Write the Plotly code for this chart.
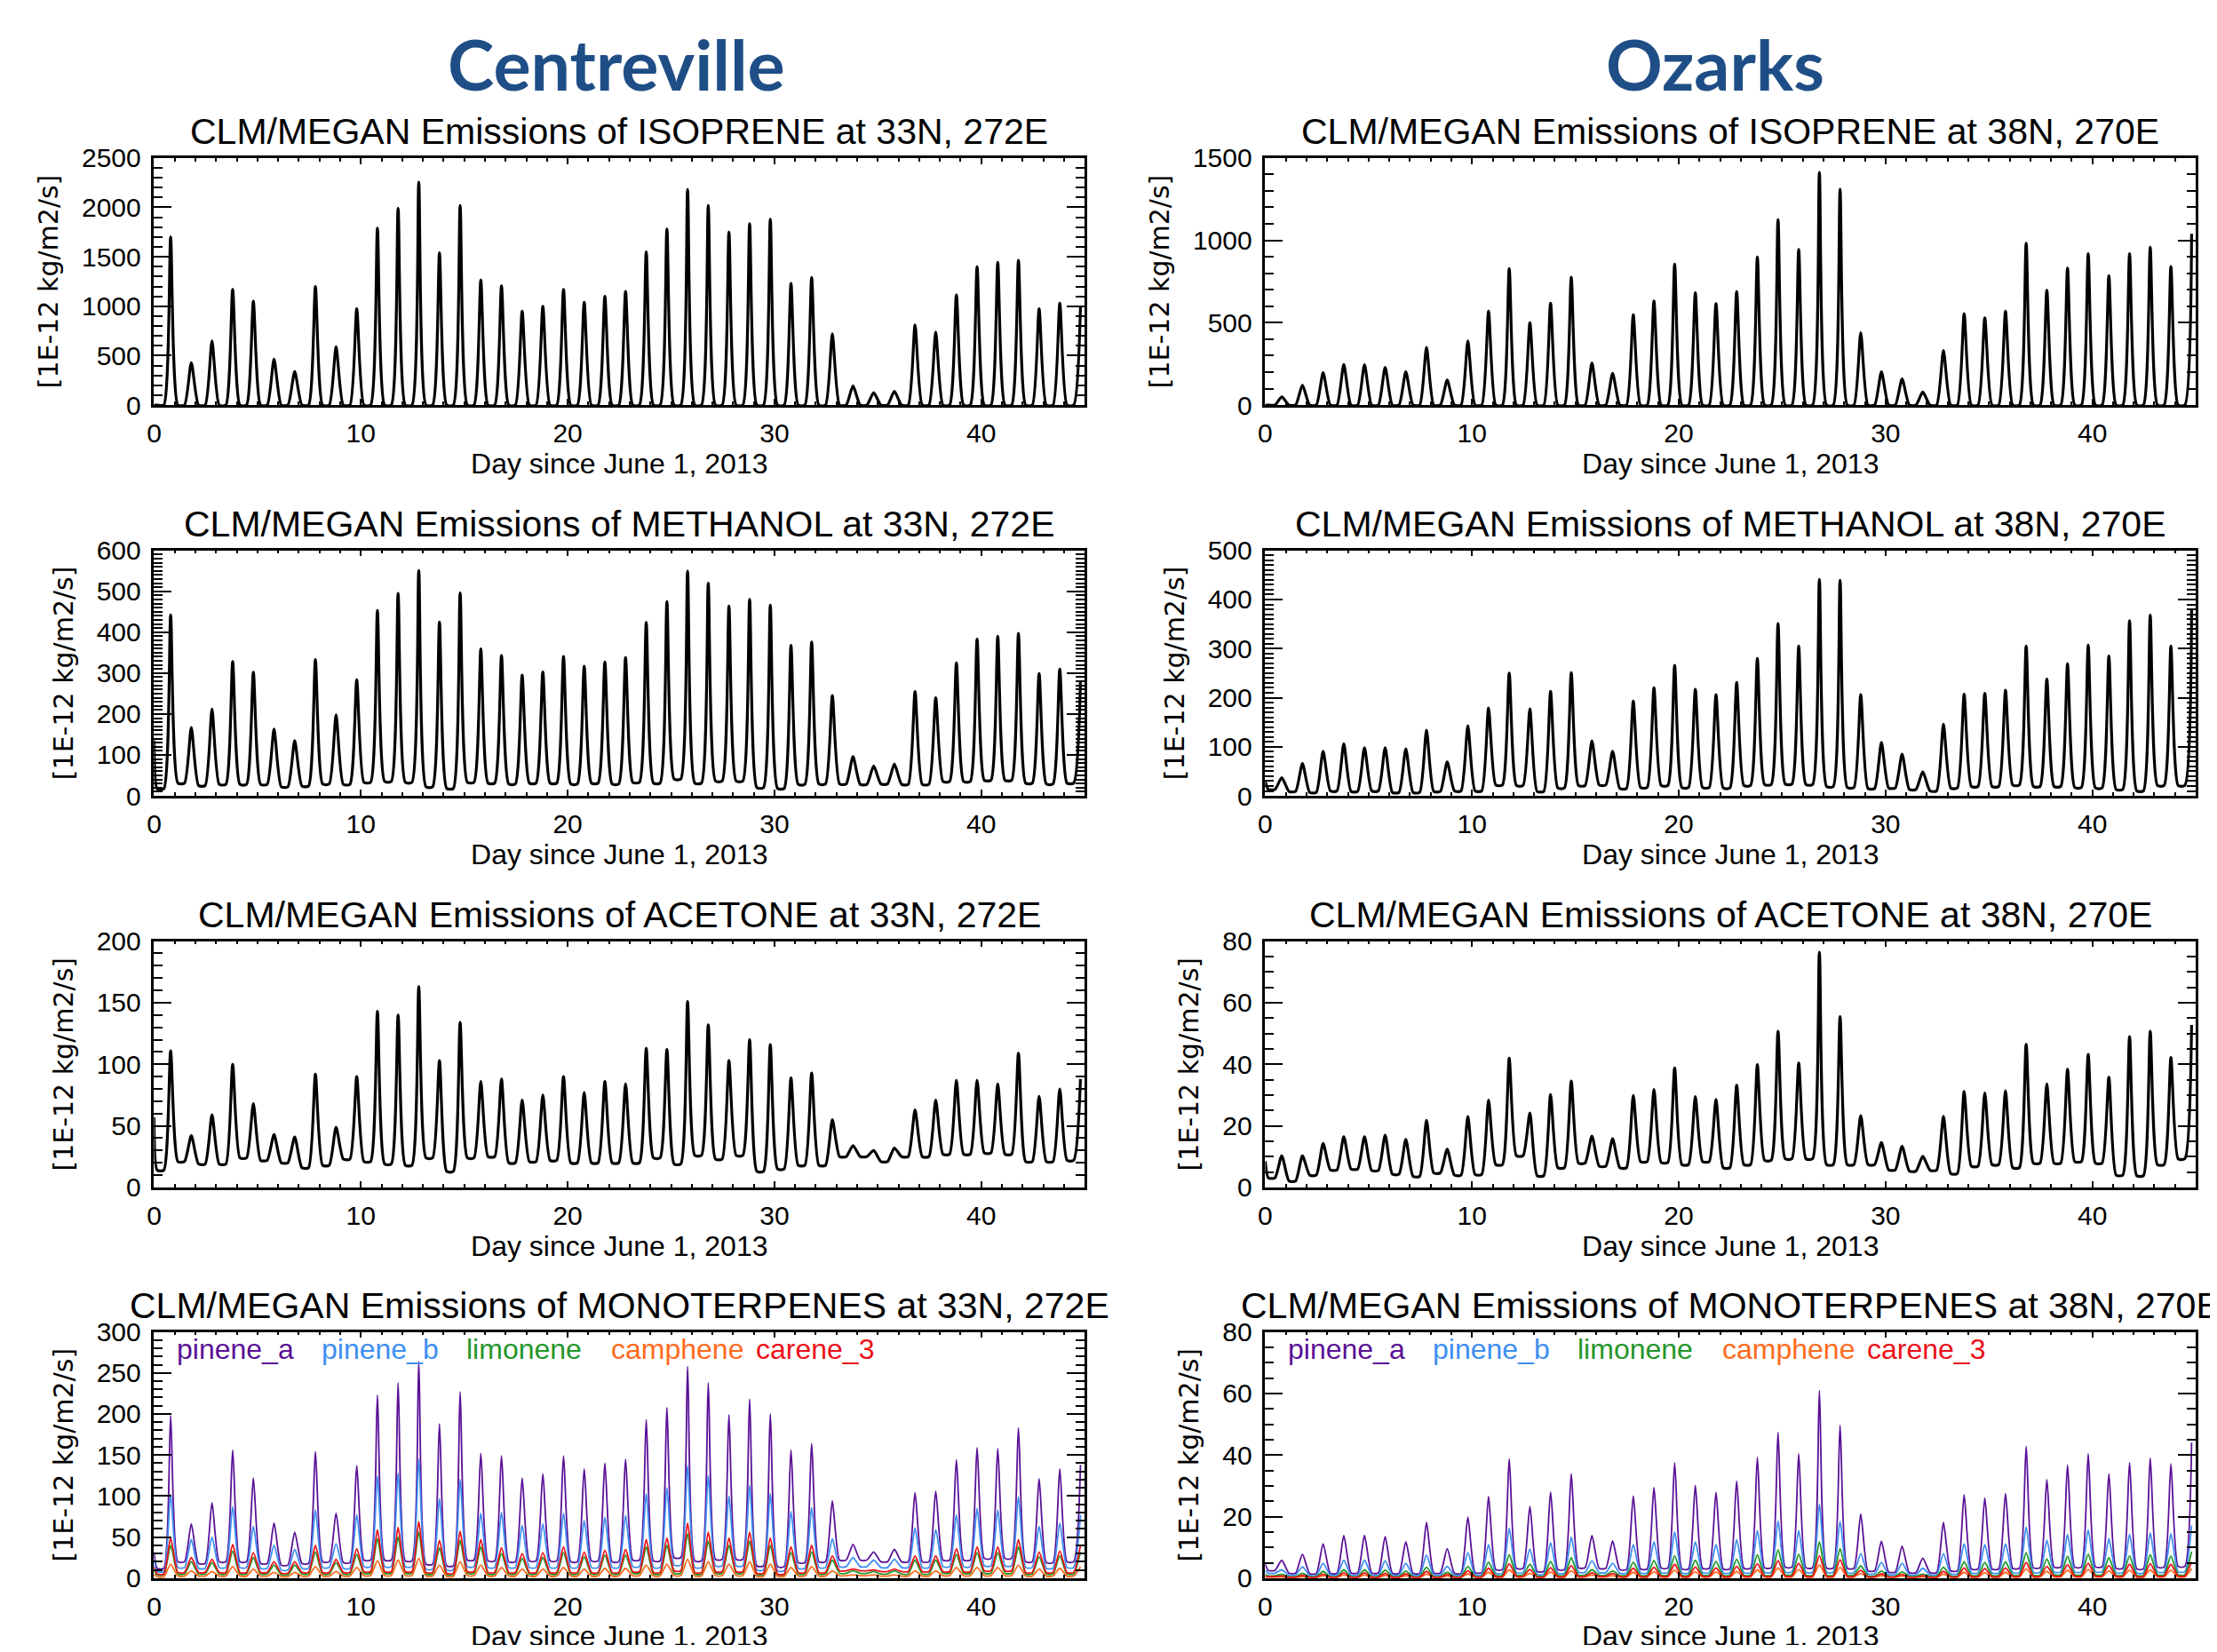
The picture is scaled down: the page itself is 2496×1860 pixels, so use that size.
import plotly.graph_objects as go

# ---------------- data (daily peak / night-minimum values) ----------------
DAY_LABEL = "Day since June 1, 2013"
YTITLE = "[1E-12 kg/m2/s]"
X_TICKS = [0, 10, 20, 30, 40]

# Centreville (33N, 272E)
CV_ISOP_PEAK = [1700, 430, 650, 1170, 1050, 465, 340, 1200, 590, 975,
                1790, 1990, 2255, 1540, 2020, 1265, 1205, 950, 1000, 1170,
                1040, 1100, 1150, 1550, 1780, 2180, 2020, 1750, 1835, 1880,
                1230, 1290, 720, 195, 125, 140, 810, 740, 1115, 1400,
                1445, 1465, 975, 1030, 1000]
CV_ISOP_NIGHT = [0] * 45
CV_METH_PEAK = [442, 167, 212, 328, 302, 163, 135, 333, 198, 284,
                453, 495, 551, 425, 496, 359, 343, 295, 303, 341,
                317, 327, 338, 424, 475, 549, 520, 464, 480, 466,
                368, 376, 245, 96, 73, 78, 255, 240, 325, 383,
                390, 397, 299, 310, 281]
CV_METH_NIGHT = [17, 31, 25, 28, 28, 28, 22, 24, 29, 28,
                 33, 35, 33, 22, 18, 33, 31, 29, 31, 31,
                 29, 31, 29, 33, 31, 41, 31, 36, 36, 20,
                 18, 28, 29, 29, 28, 29, 28, 28, 35, 35,
                 38, 38, 31, 29, 31]
CV_ACET_PEAK = [111, 42, 59, 100, 68, 43, 41, 92, 49, 90,
                143, 140, 163, 103, 134, 86, 88, 71, 75, 90,
                77, 86, 84, 113, 112, 151, 132, 103, 120, 116,
                89, 93, 55, 34, 30, 32, 63, 71, 87, 87,
                84, 109, 74, 80, 88]
CV_ACET_NIGHT = [14, 21, 19, 19, 24, 22, 20, 16, 18, 23,
                 21, 19, 18, 24, 13, 24, 25, 20, 21, 22,
                 20, 20, 20, 20, 24, 19, 26, 23, 26, 13,
                 15, 18, 18, 25, 25, 21, 25, 25, 27, 27,
                 28, 27, 21, 21, 22]
CV_PINA_PEAK = [198, 66, 92, 156, 122, 67, 56, 154, 79, 137,
                223, 238, 264, 188, 227, 152, 149, 122, 127, 149,
                133, 140, 145, 193, 208, 258, 238, 199, 218, 200,
                156, 164, 94, 41, 32, 35, 104, 106, 144, 159,
                158, 183, 121, 133, 138]
CV_PINA_NIGHT = [12, 20, 18, 20, 20, 18, 16, 18, 20, 19,
                 22, 22, 21, 17, 15, 22, 21, 20, 21, 21,
                 20, 21, 20, 22, 21, 25, 21, 23, 23, 15,
                 14, 19, 20, 22, 22, 20, 20, 20, 22, 22,
                 24, 24, 20, 19, 20]
CV_PINB_PEAK = [102, 47, 50, 87, 63, 40, 35, 83, 42, 77,
                124, 128, 145, 97, 120, 79, 80, 64, 66, 79,
                70, 74, 76, 103, 110, 137, 125, 100, 113, 103,
                81, 86, 48, 25, 22, 23, 61, 59, 77, 85,
                83, 99, 63, 67, 77]
CV_PINB_NIGHT = [8, 13, 12, 13, 13, 12, 10, 12, 13, 12,
                 14, 14, 14, 11, 10, 14, 13, 13, 13, 13,
                 13, 13, 13, 14, 13, 16, 13, 15, 15, 10,
                 9, 12, 13, 14, 14, 13, 13, 13, 14, 14,
                 15, 15, 13, 12, 13]
CV_LIMO_PEAK = [40, 20, 19, 33, 25, 16, 16, 32, 19, 29,
                48, 50, 56, 37, 46, 38, 30, 24, 25, 31,
                26, 28, 28, 38, 40, 54, 45, 40, 45, 40,
                31, 32, 22, 9, 8, 9, 22, 22, 29, 31,
                31, 38, 26, 27, 32]
CV_LIMO_NIGHT = [4, 5, 5, 5, 5, 5, 4, 5, 5, 5,
                 6, 6, 6, 5, 4, 6, 5, 5, 5, 5,
                 5, 5, 5, 6, 5, 6, 5, 6, 6, 4,
                 4, 5, 5, 6, 6, 5, 5, 5, 6, 6,
                 6, 6, 5, 5, 5]
CV_CAMPH_PEAK = [17, 9, 8, 14, 11, 7, 7, 14, 8, 13,
                 21, 22, 24, 16, 20, 16, 13, 11, 11, 13,
                 11, 12, 12, 16, 17, 23, 20, 17, 20, 17,
                 13, 14, 9, 4, 4, 4, 9, 9, 13, 13,
                 13, 16, 11, 12, 14]
CV_CAMPH_NIGHT = [1.5, 2.5, 2.5, 2.5, 2.5, 2.5, 2, 2.5, 2.5, 2.5,
                  3, 3, 3, 2.5, 2, 3, 2.5, 2.5, 2.5, 2.5,
                  2.5, 2.5, 2.5, 3, 2.5, 3, 2.5, 3, 3, 2,
                  2, 2.5, 2.5, 3, 3, 2.5, 2.5, 2.5, 3, 3,
                  3, 3, 2.5, 2.5, 2.5]
CV_CAREN_PEAK = [49, 25, 23, 41, 31, 20, 20, 40, 23, 36,
                 59, 62, 69, 46, 57, 47, 37, 30, 31, 38,
                 32, 34, 35, 47, 49, 67, 56, 49, 56, 49,
                 38, 40, 27, 11, 10, 11, 27, 27, 36, 38,
                 38, 47, 32, 33, 40]
CV_CAREN_NIGHT = [5, 7, 7, 7, 7, 7, 6, 7, 7, 7,
                  8, 8, 8, 7, 6, 8, 7, 7, 7, 7,
                  7, 7, 7, 8, 7, 9, 7, 8, 8, 6,
                  5, 7, 7, 9, 9, 8, 8, 8, 8, 8,
                  9, 9, 7, 7, 7]

# Ozarks (38N, 270E)
OZ_ISOP_PEAK = [50, 121, 197, 247, 245, 229, 202, 350, 152, 390,
                570, 829, 500, 619, 776, 256, 193, 549, 632, 856,
                682, 616, 688, 899, 1125, 944, 1412, 1310, 440, 202,
                159, 79, 332, 554, 529, 570, 982, 697, 832, 919,
                785, 919, 958, 841, 1040]
OZ_ISOP_NIGHT = [0] * 45
OZ_METH_PEAK = [37, 66, 91, 106, 98, 98, 96, 134, 69, 143,
                179, 250, 177, 213, 251, 112, 91, 193, 220, 266,
                217, 206, 231, 280, 351, 305, 441, 439, 206, 109,
                85, 49, 146, 207, 209, 215, 305, 238, 269, 307,
                285, 357, 368, 305, 381]
OZ_METH_NIGHT = [13, 9, 7, 10, 9, 10, 7, 7, 9, 10,
                 10, 22, 21, 9, 16, 21, 22, 15, 17, 21,
                 17, 17, 16, 21, 23, 24, 23, 19, 17, 15,
                 16, 13, 10, 16, 19, 19, 22, 19, 19, 17,
                 16, 13, 10, 21, 21]
OZ_ACET_PEAK = [10.3, 10.3, 14.3, 16.5, 16.5, 17, 15.6, 21.8, 12.4, 23,
                28.4, 42, 24.2, 30.2, 34.6, 16.7, 15.8, 29.9, 31.8, 38.8,
                29.5, 28.6, 33.2, 39.9, 50.7, 40.4, 76.4, 55.5, 23.3, 14.6,
                13.4, 10.1, 23.1, 31.2, 30.7, 31.4, 46.5, 33.6, 38.4, 43.2,
                35.8, 49, 50.7, 42.2, 52.8]
OZ_ACET_NIGHT = [3.1, 2.1, 4, 5.7, 6, 5.5, 4.3, 3.6, 4.7, 4,
                 4.2, 7.4, 10.3, 3.8, 6.4, 7.9, 6.9, 6.4, 8.4, 8.1,
                 7.4, 8.4, 6.4, 7.4, 8.8, 9.3, 9.3, 7.4, 7.4, 7.4,
                 5.7, 5.3, 5.6, 4.5, 6.9, 7.4, 6.4, 7.9, 7.9, 8.4,
                 7.9, 4, 3.8, 7.4, 9.3]
OZ_PINA_PEAK = [5.8, 7.8, 11.2, 13.8, 13.9, 13.5, 11.8, 18.1, 9.6, 19.8,
                26.5, 38.8, 23.3, 28, 33.9, 13.8, 12.1, 26.7, 29.4, 37.5,
                30.1, 27.9, 31.5, 39.2, 47.3, 40.4, 60.9, 49.6, 20.8, 12,
                10.4, 6.5, 18.1, 27.1, 26, 27.5, 42.8, 32, 36.8, 40.4,
                33.9, 37.5, 39, 37.1, 44]
OZ_PINA_NIGHT = [2.5, 1.6, 1.5, 1.6, 1.7, 1.7, 1.6, 1.6, 1.7, 1.6,
                 1.8, 2.8, 3.2, 2.2, 2.8, 3.4, 3.2, 2.8, 3.0, 3.3,
                 3.0, 3.2, 3.0, 3.2, 3.4, 3.6, 3.4, 3.3, 3.2, 2.4,
                 2.0, 1.8, 1.8, 2.4, 3.0, 3.0, 3.2, 3.4, 3.6, 3.6,
                 3.7, 3.2, 3.0, 3.6, 3.8]
OZ_PINB_PEAK = [2.7, 3.7, 4.8, 5.8, 5.8, 5.6, 4.8, 7.5, 3.8, 8.3,
                10.9, 16.2, 9.4, 11.5, 13.3, 5.6, 4.8, 10.9, 11.8, 15,
                11.8, 10.9, 12.5, 15.4, 18.5, 15.4, 24, 18.4, 8, 5.1,
                4.8, 3.2, 8, 11.2, 10.9, 11.2, 16.6, 12.3, 14.2, 15.7,
                12.8, 14.2, 14.7, 14.4, 17.1]
OZ_PINB_NIGHT = [1.6, 1.0, 0.9, 1.0, 1.0, 1.0, 1.0, 1.0, 1.0, 1.0,
                 1.1, 1.6, 1.8, 1.3, 1.6, 1.9, 1.8, 1.6, 1.7, 1.8,
                 1.7, 1.8, 1.7, 1.8, 1.9, 2.0, 1.9, 1.9, 1.8, 1.4,
                 1.2, 1.1, 1.1, 1.4, 1.7, 1.7, 1.8, 1.9, 2.0, 2.0,
                 2.1, 1.8, 1.7, 2.0, 2.1]
OZ_LIMO_PEAK = [1.2, 1.6, 2.2, 2.7, 2.7, 2.6, 2.3, 3.5, 1.9, 3.8,
                5.2, 7.6, 4.5, 5.4, 6.6, 2.7, 2.3, 5.2, 5.7, 7.3,
                5.8, 5.4, 6.1, 7.6, 9.2, 7.8, 11.8, 9.6, 4, 2.3,
                2, 1.3, 3.5, 5.3, 5.1, 5.3, 8.3, 6.2, 7.1, 7.8,
                6.6, 7.3, 7.6, 7.2, 8.6]
OZ_LIMO_NIGHT = [0.8, 0.5, 0.5, 0.5, 0.5, 0.5, 0.5, 0.5, 0.5, 0.5,
                 0.6, 0.9, 1.0, 0.7, 0.9, 1.0, 1.0, 0.9, 0.9, 1.0,
                 0.9, 1.0, 0.9, 1.0, 1.0, 1.1, 1.0, 1.0, 1.0, 0.7,
                 0.6, 0.6, 0.6, 0.7, 0.9, 0.9, 1.0, 1.0, 1.1, 1.1,
                 1.1, 1.0, 0.9, 1.1, 1.1]
OZ_CAMPH_PEAK = [0.4, 0.5, 0.8, 1, 1, 0.9, 0.8, 1.3, 0.7, 1.4,
                 1.9, 2.7, 1.6, 2, 2.4, 1, 0.8, 1.9, 2.1, 2.6,
                 2.1, 2, 2.2, 2.7, 3.3, 2.8, 4.3, 3.5, 1.5, 0.8,
                 0.7, 0.5, 1.3, 1.9, 1.8, 1.9, 3, 2.2, 2.6, 2.8,
                 2.4, 2.6, 2.7, 2.6, 3.1]
OZ_CAMPH_NIGHT = [0.3, 0.2, 0.2, 0.2, 0.2, 0.2, 0.2, 0.2, 0.2, 0.2,
                  0.25, 0.3, 0.35, 0.25, 0.3, 0.35, 0.35, 0.3, 0.3, 0.35,
                  0.3, 0.35, 0.3, 0.35, 0.35, 0.4, 0.35, 0.35, 0.35, 0.25,
                  0.25, 0.2, 0.2, 0.25, 0.3, 0.3, 0.35, 0.35, 0.4, 0.4,
                  0.4, 0.35, 0.3, 0.4, 0.4]
OZ_CAREN_PEAK = [0.7, 0.9, 1.3, 1.7, 1.7, 1.6, 1.4, 2.2, 1.2, 2.4,
                 3.2, 4.7, 2.8, 3.4, 4.1, 1.7, 1.5, 3.2, 3.5, 4.5,
                 3.6, 3.3, 3.8, 4.7, 5.7, 4.8, 7.3, 6, 2.5, 1.4,
                 1.2, 0.8, 2.2, 3.3, 3.1, 3.3, 5.1, 3.8, 4.4, 4.8,
                 4.1, 4.5, 4.7, 4.5, 5.3]
OZ_CAREN_NIGHT = [0.5, 0.3, 0.3, 0.3, 0.3, 0.3, 0.3, 0.3, 0.3, 0.3,
                  0.4, 0.5, 0.6, 0.4, 0.5, 0.6, 0.6, 0.5, 0.5, 0.6,
                  0.5, 0.6, 0.5, 0.6, 0.6, 0.7, 0.6, 0.6, 0.6, 0.4,
                  0.4, 0.3, 0.3, 0.4, 0.5, 0.5, 0.6, 0.6, 0.7, 0.7,
                  0.7, 0.6, 0.5, 0.7, 0.7]

# value at t = 0 for each series
START = {"CV_ISOP": 0, "CV_METH": 136, "CV_ACET": 57, "CV_PINA": 30, "CV_PINB": 22,
         "CV_LIMO": 10, "CV_CAMPH": 5, "CV_CAREN": 14,
         "OZ_ISOP": 0, "OZ_METH": 29, "OZ_ACET": 8.5, "OZ_PINA": 4.5, "OZ_PINB": 2.5,
         "OZ_LIMO": 1.2, "OZ_CAMPH": 0.4, "OZ_CAREN": 0.6}

SPECIES = ["pinene_a", "pinene_b", "limonene", "camphene", "carene_3"]
SPECIES_COLORS = ["#5a1196", "#3d8ef2", "#23962a", "#ff6a1c", "#ec1018"]
SPECIES_LABEL_X = [1, 8, 15, 22, 29]

# time of day (fraction) of dusk-end / dawn / midday peak samples
PHASE = [0.15, 0.47, 0.80]

# ---------------- layout helpers ----------------
W, H = 2480, 1844
OFFX, OFFY = 12, 8
VS, VO = 0.978, 18.0   # vertical calibration of the captured page


def fx(px):
    return (px - OFFX) / W


def fy(py):
    page = (py - VO) / VS
    return 1 - (page - OFFY) / H


COLX = [(170, 1221), (1425, 2476)]
ROWY = [(179, 458), (622, 899), (1063, 1341), (1504, 1782)]

SITES = [("Centreville", "33N, 272E", 692), ("Ozarks", "38N, 270E", 1933)]
COMPOUNDS = ["ISOPRENE", "METHANOL", "ACETONE", "MONOTERPENES"]
YAX = [  # (max, major, minor) for [Centreville, Ozarks]
    [(2500, 500, 100), (1500, 500, 100)],
    [(600, 100, 10), (500, 100, 10)],
    [(200, 50, 10), (80, 20, 5)],
    [(300, 50, 10), (80, 20, 5)],
]

SINGLE = {
    (0, 0): ("CV_ISOP", CV_ISOP_PEAK, CV_ISOP_NIGHT),
    (1, 0): ("CV_METH", CV_METH_PEAK, CV_METH_NIGHT),
    (2, 0): ("CV_ACET", CV_ACET_PEAK, CV_ACET_NIGHT),
    (0, 1): ("OZ_ISOP", OZ_ISOP_PEAK, OZ_ISOP_NIGHT),
    (1, 1): ("OZ_METH", OZ_METH_PEAK, OZ_METH_NIGHT),
    (2, 1): ("OZ_ACET", OZ_ACET_PEAK, OZ_ACET_NIGHT),
}
MULTI = {
    0: [("CV_PINA", CV_PINA_PEAK, CV_PINA_NIGHT), ("CV_PINB", CV_PINB_PEAK, CV_PINB_NIGHT),
        ("CV_LIMO", CV_LIMO_PEAK, CV_LIMO_NIGHT), ("CV_CAMPH", CV_CAMPH_PEAK, CV_CAMPH_NIGHT),
        ("CV_CAREN", CV_CAREN_PEAK, CV_CAREN_NIGHT)],
    1: [("OZ_PINA", OZ_PINA_PEAK, OZ_PINA_NIGHT), ("OZ_PINB", OZ_PINB_PEAK, OZ_PINB_NIGHT),
        ("OZ_LIMO", OZ_LIMO_PEAK, OZ_LIMO_NIGHT), ("OZ_CAMPH", OZ_CAMPH_PEAK, OZ_CAMPH_NIGHT),
        ("OZ_CAREN", OZ_CAREN_PEAK, OZ_CAREN_NIGHT)],
}


def series(key, peaks, nights):
    xs, ys = [0.0], [START[key]]
    for d, (p, n) in enumerate(zip(peaks, nights)):
        xs += [d + PHASE[0], d + PHASE[1], d + PHASE[2]]
        ys += [n, n, p]
    return xs, ys


FONT = "Liberation Sans, Arial, Helvetica, sans-serif"
fig = go.Figure()
layout = dict(width=W, height=H, autosize=False, margin=dict(l=0, r=0, t=0, b=0, pad=0),
              paper_bgcolor="white", plot_bgcolor="white", showlegend=False,
              annotations=[])

for r in range(4):
    for c in range(2):
        k = r * 2 + c + 1
        xs_ = "" if k == 1 else str(k)
        x0, x1 = COLX[c]
        y0, y1 = ROWY[r]
        ymax, ymaj, ymin = YAX[r][c]
        xtitle = DAY_LABEL if r < 3 else ""
        layout["xaxis" + xs_] = dict(
            domain=[fx(x0), fx(x1)], range=[0, 45], anchor="y" + xs_,
            tickvals=X_TICKS, ticks="inside", ticklen=7, tickwidth=2, tickcolor="black",
            minor=dict(dtick=1, tick0=0, ticks="inside", ticklen=4, tickwidth=1.5, tickcolor="black", showgrid=False),
            showline=True, linecolor="black", linewidth=2.5, mirror="allticks",
            showgrid=False, zeroline=False, ticklabelstandoff=3,
            tickfont=dict(family=FONT, size=30, color="black"),
            title=dict(text=xtitle, font=dict(family=FONT, size=32, color="black"), standoff=5))
        if r == 3:
            # bottom row: x title sits at the very bottom edge (partly cut, as in the source)
            layout["annotations"].append(dict(
                text=DAY_LABEL, xref="paper", yref="paper", x=fx((x0 + x1) / 2), y=fy(1847),
                xanchor="center", yanchor="middle", showarrow=False,
                font=dict(family=FONT, size=32, color="black")))
        layout["yaxis" + xs_] = dict(
            domain=[fy(y1), fy(y0)], range=[0, ymax], anchor="x" + xs_,
            tick0=0, dtick=ymaj, ticks="inside", ticklen=20, tickwidth=2, tickcolor="black",
            minor=dict(dtick=ymin, ticks="inside", ticklen=10, tickwidth=1.5, tickcolor="black", showgrid=False),
            showline=True, linecolor="black", linewidth=2.5, mirror="allticks",
            showgrid=False, zeroline=False, ticklabelstandoff=6,
            tickfont=dict(family=FONT, size=30, color="black"),
            title=dict(text=YTITLE, font=dict(family="DejaVu Sans", size=30, color="black"), standoff=18))
        # subplot title
        site, loc, _ = SITES[c]
        layout["annotations"].append(dict(
            text=f"CLM/MEGAN Emissions of {COMPOUNDS[r]} at {loc}", xref="paper", yref="paper",
            x=fx((x0 + x1) / 2), y=fy(y0 - 30), xanchor="center", yanchor="middle", showarrow=False,
            font=dict(family=FONT, size=41, color="black")))
        if r < 3:
            key, pk, nt = SINGLE[(r, c)]
            xs, ys = series(key, pk, nt)
            fig.add_trace(go.Scatter(x=xs, y=ys, mode="lines", xaxis="x" + xs_, yaxis="y" + xs_,
                                     line=dict(color="black", width=3.2, shape="spline", smoothing=0.6)))
        else:
            for (key, pk, nt), col in zip(MULTI[c], SPECIES_COLORS):
                xs, ys = series(key, pk, nt)
                fig.add_trace(go.Scatter(x=xs, y=ys, mode="lines", xaxis="x" + xs_, yaxis="y" + xs_,
                                         line=dict(color=col, width=1.8, shape="spline", smoothing=0.6)))
            for name, col, lx in zip(SPECIES, SPECIES_COLORS, SPECIES_LABEL_X):
                layout["annotations"].append(dict(
                    text=name, xref="x" + xs_, yref="y" + xs_, x=lx, y=ymax * 0.93,
                    xanchor="left", yanchor="middle", showarrow=False,
                    font=dict(family=FONT, size=32, color=col)))

for site, loc, cx in SITES:
    layout["annotations"].append(dict(
        text=site, xref="paper", yref="paper", x=fx(cx), y=fy(72), xanchor="center", yanchor="middle",
        showarrow=False, font=dict(family="Lato, Open Sans, sans-serif", size=79, color="#1f4e86", weight="bold")))

fig.update_layout(**layout)
fig.write_html("out.html")
